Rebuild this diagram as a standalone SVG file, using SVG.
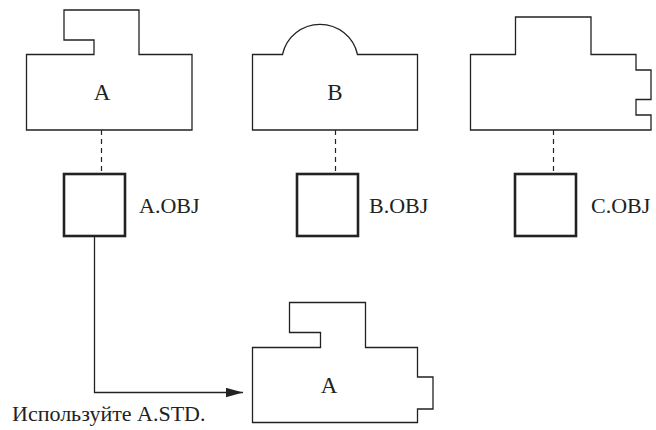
<svg xmlns="http://www.w3.org/2000/svg" width="656" height="430" viewBox="0 0 656 430">
<defs>
<marker id="arr" markerWidth="18" markerHeight="10" refX="17" refY="5" orient="auto" markerUnits="userSpaceOnUse">
<path d="M0,0.3 L17,5 L0,9.7 Z" fill="#222"/>
</marker>
</defs>
<g fill="#fff" stroke="#222" stroke-width="1.3">
<g id="nodeA">
<path d="M26.5,54.5 H94 V40 H64 V10 H139 V54.5 H192 V130 H26.5 Z"/>
<text x="102" y="100" font-family="Liberation Serif" style="font-family:'Liberation Serif','Times New Roman',serif;font-size:23px" fill="#222" stroke="none" text-anchor="middle">A</text>
</g>
<g id="nodeB">
<path d="M252.5,54.5 H282.5 A38.4,38.4 0 0 1 357.5,54.5 H417.5 V130 H252.5 Z"/>
<text x="335" y="100" font-family="Liberation Serif" style="font-family:'Liberation Serif','Times New Roman',serif;font-size:23px" fill="#222" stroke="none" text-anchor="middle">B</text>
</g>
<g id="nodeC">
<path d="M470.5,54.5 H515.5 V17 H591 V54.5 H636 V70 H651 V99.5 H636 V115 H651 V130 H470.5 Z"/>
</g>
<g id="nodeA2">
<path d="M252.5,347.5 H320.5 V332.5 H289.5 V302.5 H365.5 V347.5 H417.5 V377 H433 V409 H417.5 V422.5 H252.5 Z"/>
<text x="329" y="393" font-family="Liberation Serif" style="font-family:'Liberation Serif','Times New Roman',serif;font-size:23px" fill="#222" stroke="none" text-anchor="middle">A</text>
</g>
</g>
<g fill="#fff" stroke="#222" stroke-width="2.6">
<g id="objA">
<rect x="64" y="174" width="61" height="62"/>
<text x="139" y="213" font-family="Liberation Serif" style="font-family:'Liberation Serif','Times New Roman',serif;font-size:22px" fill="#222" stroke="none">A.OBJ</text>
</g>
<g id="objB">
<rect x="297" y="174" width="61" height="62"/>
<text x="369" y="213" font-family="Liberation Serif" style="font-family:'Liberation Serif','Times New Roman',serif;font-size:22px" fill="#222" stroke="none">B.OBJ</text>
</g>
<g id="objC">
<rect x="515" y="174" width="61" height="62"/>
<text x="591" y="213" font-family="Liberation Serif" style="font-family:'Liberation Serif','Times New Roman',serif;font-size:22px" fill="#222" stroke="none">C.OBJ</text>
</g>
</g>
<g id="connectors" fill="none" stroke="#222" stroke-width="1.2">
<line stroke-dasharray="5,4" x1="101.5" y1="130" x2="101.5" y2="174"/>
<line stroke-dasharray="5,4" x1="335.5" y1="130" x2="335.5" y2="174"/>
<line stroke-dasharray="5,4" x1="553.5" y1="130" x2="553.5" y2="174"/>
<path stroke-width="1.3" d="M94.5,237 V392.5 H243" marker-end="url(#arr)"/>
</g>
<text x="12" y="421" font-family="Liberation Serif" style="font-family:'Liberation Serif','Times New Roman',serif;font-size:22px" fill="#222">Используйте A.STD.</text>
</svg>
